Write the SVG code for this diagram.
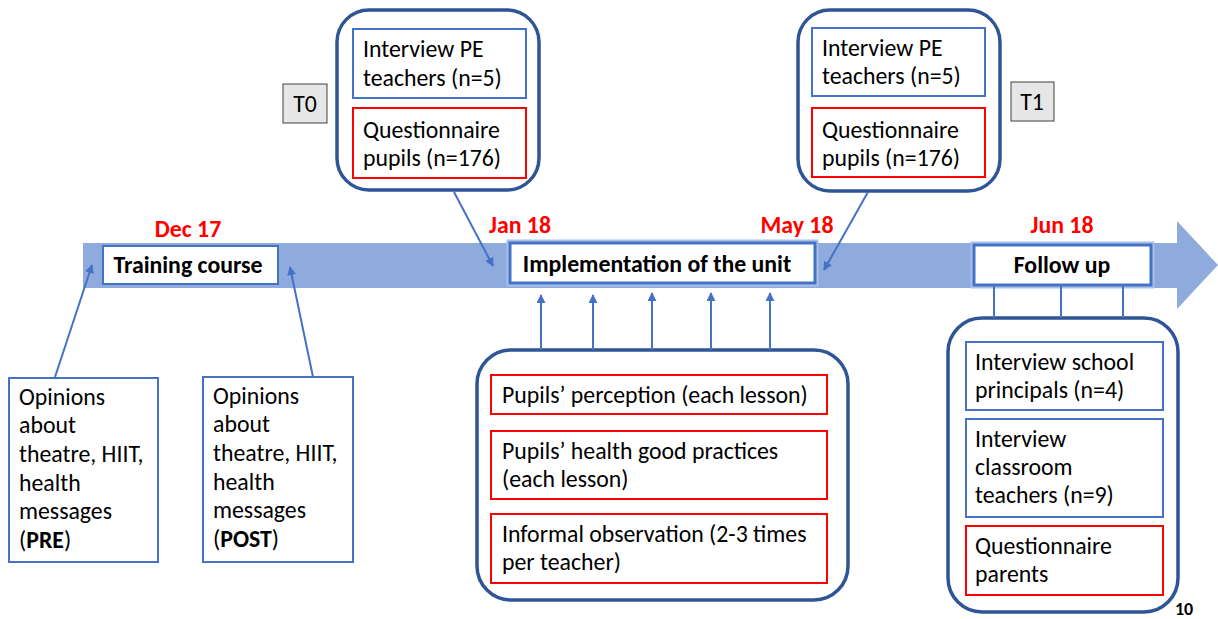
<svg xmlns="http://www.w3.org/2000/svg" width="1218" height="619" viewBox="0 0 1218 619">
<style>
text{font-family:Carlito,Lato,"Liberation Sans",sans-serif;fill:#000}
.t{font-size:23.8px}
.b{font-size:23.8px;font-weight:bold}
.d{font-size:23.8px;font-weight:bold;fill:#FF0000}
.grp{fill:#fff;stroke:#2F5597;stroke-width:3.5}
.bl{fill:#fff;stroke:#4472C4;stroke-width:2}
.rd{fill:#fff;stroke:#FF0000;stroke-width:2}
.tag{fill:#E7E6E6;stroke:#404040;stroke-width:1}
.c{stroke:#4472C4;stroke-width:2;fill:none}
</style>
<defs>
<marker id="ah" viewBox="0 0 10 10" refX="9" refY="5" markerWidth="4.5" markerHeight="4.5" orient="auto" markerUnits="strokeWidth">
<path d="M0,0 L10,5 L0,10 z" fill="#4472C4"/>
</marker>
</defs>
<g id="timeline">
<path d="M83,243 H1177 V221 L1218,265 L1177,309 V288 H83 z" fill="#8FAADC"/>
</g>
<g id="dates">
<text class="d" x="188" y="237" text-anchor="middle">Dec 17</text>
<text class="d" x="520" y="233" text-anchor="middle">Jan 18</text>
<text class="d" x="797" y="233" text-anchor="middle">May 18</text>
<text class="d" x="1062" y="233" text-anchor="middle">Jun 18</text>
</g>
<g id="training">
<rect x="103" y="246" width="175" height="38" class="bl"/>
<text class="b" x="188" y="273" text-anchor="middle">Training course</text>
</g>
<g id="implementation">
<rect x="510" y="243" width="305" height="40" fill="#fff" stroke="#A9C0EA" stroke-width="7"/>
<rect x="510" y="243" width="305" height="40" fill="#fff" stroke="#4472C4" stroke-width="3"/>
<text class="b" x="657" y="272" text-anchor="middle">Implementation of the unit</text>
</g>
<g id="followup">
<rect x="974" y="245" width="177" height="40" fill="#fff" stroke="#A9C0EA" stroke-width="7"/>
<rect x="974" y="245" width="177" height="40" fill="#fff" stroke="#4472C4" stroke-width="3"/>
<text class="b" x="1062" y="273" text-anchor="middle">Follow up</text>
</g>
<g id="t0">
<rect x="283" y="84" width="44" height="39" class="tag"/>
<text class="t" x="305" y="112" text-anchor="middle">T0</text>
</g>
<g id="t1">
<rect x="1011" y="82" width="43" height="39" class="tag"/>
<text class="t" x="1032" y="110" text-anchor="middle">T1</text>
</g>
<g id="t0-group">
<rect x="337" y="10" width="202" height="180" rx="32" class="grp"/>
<rect x="353" y="29" width="173" height="69" class="bl"/>
<text class="t" x="363" y="57">Interview PE</text>
<text class="t" x="363" y="86">teachers (n=5)</text>
<rect x="353" y="108" width="173" height="70" class="rd"/>
<text class="t" x="363" y="138">Questionnaire</text>
<text class="t" x="363" y="166">pupils (n=176)</text>
</g>
<g id="t1-group">
<rect x="798" y="10" width="202" height="181" rx="32" class="grp"/>
<rect x="812" y="28" width="173" height="68" class="bl"/>
<text class="t" x="822" y="56">Interview PE</text>
<text class="t" x="822" y="84">teachers (n=5)</text>
<rect x="812" y="108" width="173" height="69" class="rd"/>
<text class="t" x="822" y="138">Questionnaire</text>
<text class="t" x="822" y="166">pupils (n=176)</text>
</g>
<g id="pre">
<rect x="9" y="378" width="149" height="184" class="bl"/>
<text class="t" x="19" y="405">Opinions</text>
<text class="t" x="19" y="433">about</text>
<text class="t" x="19" y="462">theatre, HIIT,</text>
<text class="t" x="19" y="491">health</text>
<text class="t" x="19" y="519">messages</text>
<text class="t" x="19" y="548">(<tspan font-weight="bold">PRE</tspan>)</text>
</g>
<g id="post">
<rect x="203" y="377" width="150" height="185" class="bl"/>
<text class="t" x="213" y="404">Opinions</text>
<text class="t" x="213" y="432">about</text>
<text class="t" x="213" y="461">theatre, HIIT,</text>
<text class="t" x="213" y="490">health</text>
<text class="t" x="213" y="518">messages</text>
<text class="t" x="213" y="547">(<tspan font-weight="bold">POST</tspan>)</text>
</g>
<g id="implementation-group">
<rect x="477" y="350" width="371" height="250" rx="34" class="grp"/>
<rect x="491" y="375" width="336" height="39" class="rd"/>
<text class="t" x="502" y="403">Pupils’ perception (each lesson)</text>
<rect x="491" y="431" width="336" height="68" class="rd"/>
<text class="t" x="502" y="459">Pupils’ health good practices</text>
<text class="t" x="502" y="487">(each lesson)</text>
<rect x="491" y="514" width="336" height="69" class="rd"/>
<text class="t" x="502" y="542">Informal observation (2-3 times</text>
<text class="t" x="502" y="570">per teacher)</text>
</g>
<g id="followup-group">
<rect x="948" y="318" width="230" height="294" rx="34" class="grp"/>
<rect x="966" y="342" width="197" height="68" class="bl"/>
<text class="t" x="975" y="370">Interview school</text>
<text class="t" x="975" y="398">principals (n=4)</text>
<rect x="966" y="419" width="197" height="98" class="bl"/>
<text class="t" x="975" y="447">Interview</text>
<text class="t" x="975" y="475">classroom</text>
<text class="t" x="975" y="503">teachers (n=9)</text>
<rect x="966" y="526" width="197" height="69" class="rd"/>
<text class="t" x="975" y="554">Questionnaire</text>
<text class="t" x="975" y="582">parents</text>
</g>
<g id="connectors">
<line x1="55" y1="377" x2="92" y2="265" class="c" marker-end="url(#ah)"/>
<line x1="313" y1="377" x2="290" y2="267" class="c" marker-end="url(#ah)"/>
<line x1="454" y1="192" x2="493" y2="266" class="c" marker-end="url(#ah)"/>
<line x1="868" y1="192" x2="824" y2="270" class="c" marker-end="url(#ah)"/>
<line x1="541" y1="350" x2="541" y2="295" class="c" marker-end="url(#ah)"/>
<line x1="593" y1="350" x2="593" y2="295" class="c" marker-end="url(#ah)"/>
<line x1="652" y1="350" x2="652" y2="293" class="c" marker-end="url(#ah)"/>
<line x1="711" y1="350" x2="711" y2="293" class="c" marker-end="url(#ah)"/>
<line x1="770" y1="350" x2="770" y2="293" class="c" marker-end="url(#ah)"/>
<line x1="994" y1="286" x2="994" y2="318" class="c"/>
<line x1="1061" y1="286" x2="1061" y2="318" class="c"/>
<line x1="1123" y1="286" x2="1123" y2="318" class="c"/>
</g>
<text x="1184" y="615" text-anchor="middle" style="font-size:18px;font-weight:bold">10</text>
</svg>
